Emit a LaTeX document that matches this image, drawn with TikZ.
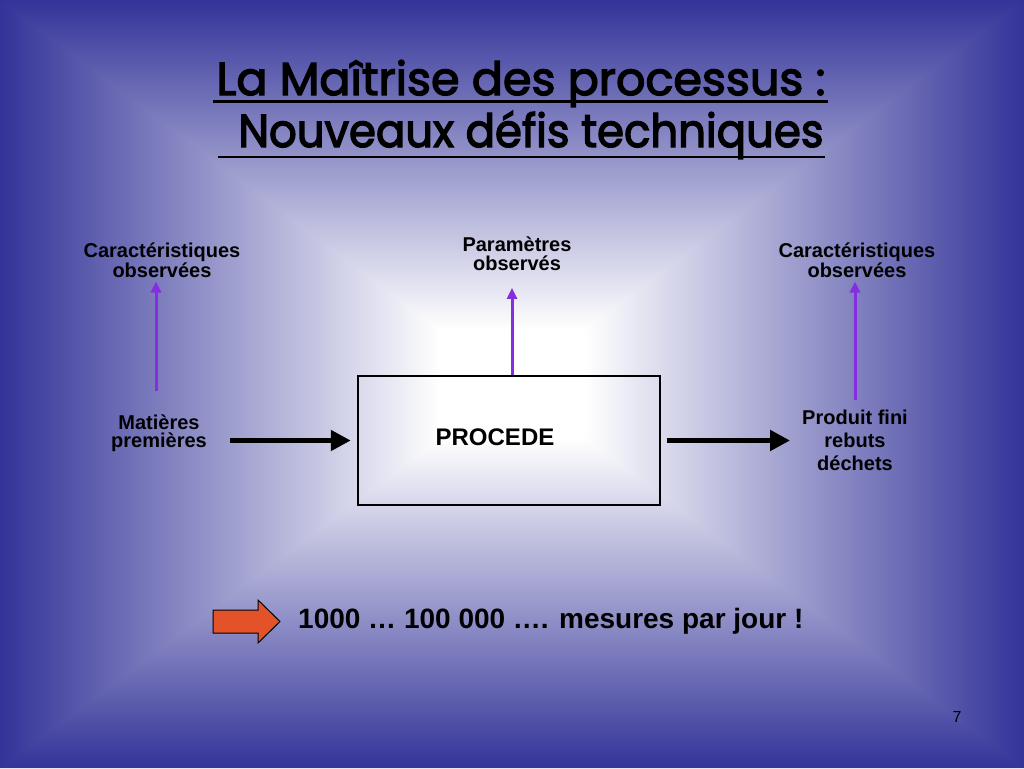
\documentclass[tikz,border=0pt]{standalone}
\usepackage{fontspec}
\setmainfont{Liberation Sans}
\newfontfamily\arialf{Liberation Sans}
\newfontfamily\titlef[FakeBold=3]{Poppins}
\usetikzlibrary{arrows.meta}
\definecolor{bgblue}{RGB}{51,51,153}
\definecolor{bgmid}{RGB}{165,165,210}
\definecolor{purp}{RGB}{135,45,225}
\definecolor{redarrow}{RGB}{228,82,42}
\tikzset{
  lbl/.style={inner sep=0pt, align=center, font=\arialf\bfseries\fontsize{20}{18.5}\selectfont},
  blackarrow/.style={line width=5pt, -{Triangle[width=20pt,length=20pt]}},
  purparrow/.style={line width=3pt, draw=purp, -{Triangle[width=10pt,length=11pt]}},
  titletxt/.style={inner sep=0pt, anchor=base, font=\titlef\fontsize{46}{50}\selectfont},
  uline/.style={line width=2.8pt},
}
\begin{document}
\begin{tikzpicture}[x=1pt,y=1pt]
\useasboundingbox (0,0) rectangle (1024,-768);
% background: rectangular gradient from centre
\fill[white] (0,0) rectangle (1024,-768);
\begin{scope}
  \clip (-20,0) -- (1044,0) -- (512,-400) -- cycle;
  \shade[top color=bgblue, middle color=bgmid, bottom color=white] (0,0) rectangle (1024,-330);
\end{scope}
\begin{scope}
  \clip (-20,-768) -- (1044,-768) -- (512,-368) -- cycle;
  \shade[bottom color=bgblue, middle color=bgmid, top color=white] (0,-768) rectangle (1024,-438);
\end{scope}
\begin{scope}
  \clip (0,0) -- (0,-768) -- (512,-384) -- cycle;
  \shade[left color=bgblue, middle color=bgmid, right color=white] (0,0) rectangle (440,-768);
\end{scope}
\begin{scope}
  \clip (1024,0) -- (1024,-768) -- (512,-384) -- cycle;
  \shade[right color=bgblue, middle color=bgmid, left color=white] (584,0) rectangle (1024,-768);
\end{scope}

% title
\node[titletxt] (t1) at (521,-95) {La Maîtrise des processus :};
\node[titletxt] (t2) at (531,-147) {\scalebox{0.945}[1]{Nouveaux défis techniques}};
\draw[uline] (213,-101.5) -- (828,-101.5);
\draw[uline] (218,-157) -- (825,-157);

% labels
\node[lbl] (car1) at (162,-260) {Caractéristiques\\observées};
\node[lbl] (par) at (517,-254) {Paramètres\\observés};
\node[lbl] (car2) at (857,-260) {Caractéristiques\\observées};
\node[lbl] (mat) at (159,-433) {Matières\\premières};
\node[lbl, font=\arialf\bfseries\fontsize{20}{23}\selectfont] (prod) at (855,-440) {Produit fini\\rebuts\\déchets};

% process box
\node[draw, line width=2.5pt, minimum width=302pt, minimum height=129pt, inner sep=0pt] (box) at (509,-440.5) {};
\node[inner sep=0pt, font=\arialf\bfseries\fontsize{24}{28}\selectfont] (proc) at (495,-437) {PROCEDE};

% connectors
\draw[blackarrow, shorten <=23pt, shorten >=6pt] (mat.east |- box.west) -- (box.west);
\draw[blackarrow, shorten <=6pt, shorten >=12pt] (box.east) -- (prod.west |- box.east);
\draw[purparrow, shorten <=23pt, shorten >=4pt] ([xshift=-3pt]mat.north) -- ([xshift=-3pt]mat.north |- car1.south);
\draw[purparrow, shorten >=17pt] ([xshift=3pt]box.north) -- ([xshift=3pt]box.north |- par.south);
\draw[purparrow, shorten <=9pt, shorten >=4pt] (prod.north) -- (prod.north |- car2.south);

% bottom note
\draw[fill=redarrow, line width=1pt, line join=miter] (213,-610) -- (258,-610) -- (258,-600) -- (280,-621.5) -- (258,-643) -- (258,-633) -- (213,-633) -- cycle;
\node[inner sep=0pt, anchor=west, font=\arialf\bfseries\fontsize{28}{32}\selectfont] (note) at (298,-621) {1000 … 100 000 …. mesures par jour !};

\node[inner sep=0pt, font=\arialf\fontsize{16}{18}\selectfont] (pnum) at (957,-717) {7};
\end{tikzpicture}
\end{document}
